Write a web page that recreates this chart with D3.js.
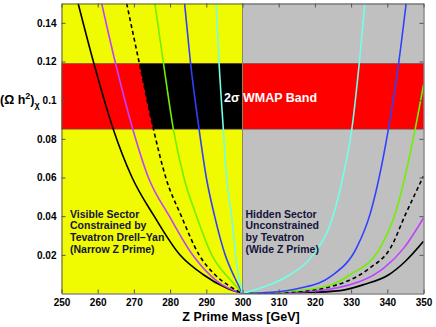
<!DOCTYPE html>
<html><head><meta charset="utf-8">
<script src="https://cdn.jsdelivr.net/npm/d3@7"></script>
<style>body{margin:0;background:#fff}svg{display:block;font-family:"Liberation Sans",Arial,sans-serif}</style>
</head><body><svg id="c" width="436" height="327"></svg>
<script>
// ---- data ----
const xTicks = [250,260,270,280,290,300,310,320,330,340,350];
const yTicks = [0.02,0.04,0.06,0.08,0.1,0.12,0.14];
const yTickLabels = ["0.02","0.04","0.06","0.08","0.1","0.12","0.14"];
const wmapBand = [0.085, 0.119];
const splitMass = 300;

const blackL = [[254.6,0.15],[258.8,0.12],[264.3,0.085],[269.5,0.06],[275.6,0.04],[282.7,0.02],[289.2,0.0097],[295.6,0.0028],[300,0]];
const magentaL = [[261.1,0.15],[264.8,0.12],[269.7,0.085],[274.0,0.06],[279.8,0.04],[286.2,0.02],[293.0,0.0063],[300,0]];
const dashedL = [[268.0,0.15],[271.4,0.12],[275.4,0.085],[278.8,0.06],[283.1,0.04],[288.0,0.02],[292.4,0.0097],[296.5,0.0037],[300,0]];
const greenL = [[275.8,0.15],[278.1,0.12],[280.9,0.085],[283.8,0.06],[287.3,0.04],[291.5,0.02],[297.0,0.0063],[300,0]];
const blueL = [[284.0,0.15],[285.6,0.12],[288.0,0.085],[290.0,0.06],[292.3,0.04],[295.2,0.02],[297.9,0.008],[300,0]];
const cyanL = [[292.7,0.15],[293.5,0.12],[294.7,0.085],[295.6,0.06],[297.0,0.04],[298.4,0.015],[300,0]];

const cyanR = [[300,0],[307.6,0.0046],[313.1,0.0097],[319.5,0.02],[325.0,0.04],[327.7,0.06],[330.2,0.085],[332.3,0.12],[333.8,0.15]];
const blueR = [[300,0],[308,0.0006],[316.0,0.0028],[324.5,0.009],[331.5,0.0236],[335.2,0.0408],[340.3,0.085],[343.2,0.12],[345.2,0.15]];
const greenR = [[300,0],[312,0.001],[323.8,0.004],[329.7,0.0097],[338.0,0.0236],[342.1,0.0408],[347.7,0.085],[350,0.108]];
const dashedR = [[300,0],[315,0.001],[328.8,0.0063],[335.2,0.0132],[340.9,0.0236],[345.0,0.0408],[350,0.0607]];
const magentaR = [[300,0],[318,0.001],[332.6,0.0063],[339.1,0.0132],[344.6,0.0236],[350,0.0391]];
const blackR = [[300,0],[318,0.0005],[327,0.0015],[333.5,0.0046],[340.4,0.0097],[345.0,0.0167],[350,0.027]];

const curves = [
  {l:blackL, r:blackR, color:"#000000", dash:null},
  {l:magentaL, r:magentaR, color:"#c040ff", dash:null},
  {l:dashedL, r:dashedR, color:"#000000", dash:"4,3"},
  {l:greenL, r:greenR, color:"#70f000", dash:null},
  {l:blueL, r:blueR, color:"#3040ff", dash:null},
  {l:cyanL, r:cyanR, color:"#70ffe8", dash:null}
];

// ---- layout ----
const W=436,H=327, m={l:61.5,r:12.5,t:3.5,b:33.5};
const x = d3.scaleLinear().domain([250,350]).range([m.l, W-m.r]);
const y = d3.scaleLinear().domain([0,0.15]).range([H-m.b, m.t]);
const svg = d3.select("#c");
const defs = svg.append("defs");
defs.append("clipPath").attr("id","plot").append("rect")
  .attr("x",x(250)).attr("y",y(0.15)).attr("width",x(350)-x(250)).attr("height",y(0)-y(0.15));

const line = d3.line().x(d=>x(d[0])).y(d=>y(d[1])).curve(d3.curveMonotoneX);

// black region clip: right of dashed curve on left half
defs.append("clipPath").attr("id","dashclip").append("path")
  .attr("d", line(dashedL) + `L${x(splitMass)},${y(0.15)}Z`);

const g = svg.append("g");
g.append("rect").attr("x",x(250)).attr("y",y(0.15)).attr("width",x(splitMass)-x(250)).attr("height",y(0)-y(0.15)).attr("fill","#f0fa00");
g.append("rect").attr("x",x(splitMass)).attr("y",y(0.15)).attr("width",x(350)-x(splitMass)).attr("height",y(0)-y(0.15)).attr("fill","#c0c0c0");
g.append("rect").attr("x",x(250)).attr("y",y(wmapBand[1])).attr("width",x(350)-x(250)).attr("height",y(wmapBand[0])-y(wmapBand[1])).attr("fill","#ff0000");
g.append("rect").attr("clip-path","url(#dashclip)").attr("x",x(250)).attr("y",y(wmapBand[1])).attr("width",x(splitMass)-x(250)).attr("height",y(wmapBand[0])-y(wmapBand[1])).attr("fill","#000");
wmapBand.forEach(v=>g.append("line").attr("x1",x(250)).attr("x2",x(350)).attr("y1",y(v)).attr("y2",y(v)).attr("stroke","#555").attr("stroke-width",0.8).attr("opacity",0.7));
g.append("line").attr("x1",x(splitMass)).attr("x2",x(splitMass)).attr("y1",y(0)).attr("y2",y(0.15)).attr("stroke","#8a8a60").attr("stroke-width",1);

// band label
g.append("text").attr("x",224).attr("y",102).attr("fill","#fff").attr("font-size",12.5).attr("font-weight","bold")
  .text("2σ WMAP Band");

// curves
const cg = svg.append("g").attr("clip-path","url(#plot)");
curves.forEach(c=>{
  [c.l,c.r].forEach(arr=>{
    cg.append("path").attr("d",line(arr)).attr("fill","none").attr("stroke",c.color)
      .attr("stroke-width",1.6).attr("stroke-dasharray",c.dash);
  });
});

// annotations
const ann = [
  {x:70, lines:["Visible Sector","Constrained by","Tevatron Drell\u2013Yan","(Narrow Z Prime)"]},
  {x:245.5, lines:["Hidden Sector","Unconstrained","by Tevatron","(Wide Z Prime)"]}
];
ann.forEach(a=>{
  const t = svg.append("text").attr("font-size",10.5).attr("font-weight","bold").attr("fill","#14143a");
  a.lines.forEach((s,i)=>t.append("tspan").attr("x",a.x).attr("y",217.5+i*11.7).text(s));
});

// axes
const axStyle = sel=>{ sel.select(".domain").attr("stroke","#555"); sel.selectAll(".tick line").attr("stroke","#555");
  sel.selectAll("text").attr("font-size",10).attr("font-weight","bold").attr("fill","#000").attr("font-family","Liberation Sans, Arial, sans-serif"); };
svg.append("g").attr("transform",`translate(0,${y(0)})`).call(d3.axisBottom(x).tickValues(xTicks).tickSize(-4).tickPadding(5).tickSizeOuter(0)).call(axStyle);
svg.append("g").attr("transform",`translate(0,${y(0.15)})`).call(d3.axisTop(x).tickValues(xTicks).tickSize(-4).tickFormat("").tickSizeOuter(0)).call(axStyle);
svg.append("g").attr("transform",`translate(${x(250)},0)`).call(d3.axisLeft(y).tickValues(yTicks).tickFormat((d,i)=>yTickLabels[i]).tickSize(-4).tickPadding(5).tickSizeOuter(0)).call(axStyle);
svg.append("g").attr("transform",`translate(${x(350)},0)`).call(d3.axisRight(y).tickValues(yTicks).tickSize(-4).tickFormat("").tickSizeOuter(0)).call(axStyle);

// axis titles
svg.append("text").attr("x",241).attr("y",321).attr("text-anchor","middle").attr("font-size",12.5).attr("font-weight","bold").text("Z Prime Mass [GeV]");
const yl = svg.append("text").attr("x",0).attr("y",104).attr("font-size",12.5).attr("font-weight","bold");
yl.append("tspan").text("(Ω h");
yl.append("tspan").attr("font-size",9).attr("dy",-5).text("2");
yl.append("tspan").attr("dy",5).text(")");
yl.append("tspan").attr("font-size",9).attr("dy",4).text("χ");
</script></body></html>
